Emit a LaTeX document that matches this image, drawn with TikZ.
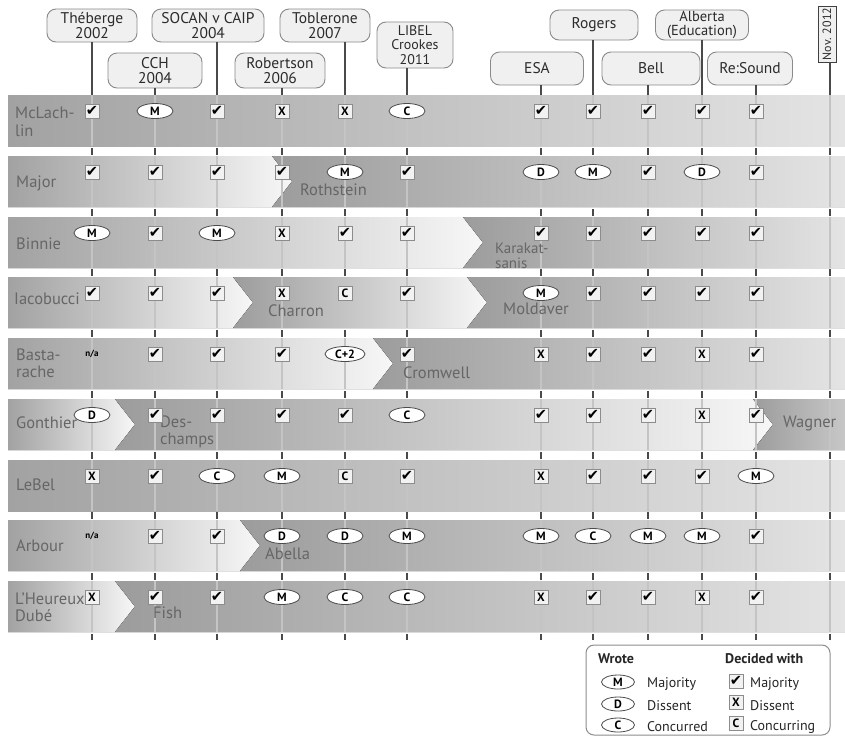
\documentclass[tikz,border=0pt]{standalone}
\usepackage{fontspec}
\setmainfont{PT Sans}
\newfontfamily\symfont{DejaVu Sans}
\usetikzlibrary{shapes.geometric,calc}

\definecolor{stemdark}{HTML}{4A4A4A}
\definecolor{stemlight}{HTML}{C4C4C4}
\definecolor{bandgrey}{HTML}{A2A2A2}
\definecolor{bandgreyB}{HTML}{9C9C9C}
\definecolor{bandpale}{HTML}{F7F7F7}
\definecolor{bandend}{HTML}{E4E4E4}
\definecolor{namegrey}{HTML}{666666}
\definecolor{casefill}{HTML}{F0F0F0}
\definecolor{caseedge}{HTML}{8A8A8A}
\definecolor{casetext}{HTML}{2B2B2B}

% band pieces: a full row, the first justice (ends in a chevron),
% a middle justice (notched on both sides) and the last one
\newcommand\segfull[1]{\fill[left color=bandgrey,right color=bandend] (8,#1) rectangle (845,#1+51);}
\newcommand\segfirst[2]{\fill[left color=bandgrey,right color=bandpale] (8,#1) -- (#2,#1) -- (#2+20,#1+25.5) -- (#2,#1+51) -- (8,#1+51) -- cycle;}
\newcommand\segmid[3]{\fill[left color=bandgreyB,right color=bandpale] (#2,#1) -- (#3,#1) -- (#3+20,#1+25.5) -- (#3,#1+51) -- (#2,#1+51) -- (#2+20,#1+25.5) -- cycle;}
\newcommand\seglast[3]{\fill[left color=bandgreyB,right color=#3] (#2,#1) -- (845,#1) -- (845,#1+51) -- (#2,#1+51) -- (#2+20,#1+25.5) -- cycle;}

% one vote symbol: type, row, column
\newcommand\putsym[3]{\node[sym #1, name=s#2-#3, at={(c#3 |- r#2)}];}
\newcommand\symrow[2]{\foreach \sy [count=\co] in {#2} {\edef\go{\noexpand\putsym{\sy}{#1}{\co}}\go}}

\tikzset{
  casebox/.style={draw=caseedge, line width=0.9pt, fill=casefill, rounded corners=9pt, align=center, text=casetext, font=\fontsize{15.5}{15.5}\selectfont, inner sep=1pt},
  stem/.style={draw=stemdark, line width=2.6pt},
  inband/.style={draw=stemlight, line width=2.4pt},
  gaptick/.style={draw=stemdark, line width=2.6pt},
  wrote/.style={ellipse, draw=black!70, line width=0.8pt, fill=white, minimum width=36pt, minimum height=15pt, inner sep=0pt, font=\bfseries\fontsize{12}{12}\selectfont},
  decided/.style={rectangle, draw=black!45, line width=0.6pt, fill=black!5, minimum size=14pt, inner sep=0pt},
  sym chk/.style={decided, node contents={\symfont\fontsize{14.5}{14.5}\selectfont ✔}},
  sym X/.style={decided, node contents={\bfseries\fontsize{12}{12}\selectfont X}},
  sym Cbox/.style={decided, node contents={\bfseries\fontsize{12}{12}\selectfont C}},
  sym M/.style={wrote, node contents={M}},
  sym D/.style={wrote, node contents={D}},
  sym C/.style={wrote, node contents={C}},
  sym C2/.style={wrote, minimum width=40pt, node contents={C+2}},
  sym na/.style={inner sep=0pt, font=\bfseries\fontsize{9}{9}\selectfont, node contents={n/a}},
  jname/.style={anchor=west, align=left, text=namegrey, font=\fontsize{16.5}{17.5}\selectfont, inner sep=0pt},
  legtext/.style={anchor=west, inner sep=0pt, text=black!85, font=\fontsize{14}{15}\selectfont},
  leghead/.style={legtext, font=\bfseries\fontsize{14}{15}\selectfont},
}

\begin{document}
\begin{tikzpicture}[x=1pt,y=-1pt]
\useasboundingbox (0,0) rectangle (845,737);
\fill[white] (0,0) rectangle (845,737);

% columns and symbol rows
\coordinate (c1) at (92,0);   \coordinate (c2) at (155,0);  \coordinate (c3) at (217,0);
\coordinate (c4) at (282,0);  \coordinate (c5) at (345,0);  \coordinate (c6) at (407,0);
\coordinate (c7) at (541,0);  \coordinate (c8) at (593,0);  \coordinate (c9) at (648,0);
\coordinate (c10) at (702,0); \coordinate (c11) at (756,0); \coordinate (c12) at (830,0);
\coordinate (top1) at (0,95);
\foreach \t [count=\i] in {111,172,233,293,354,415,476,536,597} {\coordinate (r\i) at (0,\t);}

% bands, one per seat
\segfull{95}
\segfirst{156}{272} \seglast{156}{272}{bandend}
\segfirst{217}{463} \seglast{217}{463}{bandend}
\segfirst{277}{233} \segmid{277}{233}{467} \seglast{277}{467}{bandend}
\segfirst{338}{373} \seglast{338}{373}{bandend}
\segfirst{399}{115} \segmid{399}{115}{753} \seglast{399}{753}{black!22}
\segfull{460}
\segfirst{520}{240} \seglast{520}{240}{bandend}
\segfirst{581}{115} \seglast{581}{115}{bandend}

% time lines through the bands
\foreach \x in {92,155,217,282,345,407,541,593,648,702,756,830} {
  \foreach \t in {95,156,217,277,338,399,460,520,581} {\draw[inband] (\x,\t) -- (\x,\t+51);}
  \foreach \t in {156,217,277,338,399,460,520,581} {\draw[gaptick] (\x,\t-8) -- (\x,\t-1.5);}
  \draw[gaptick] (\x,634) -- (\x,640);
}

% cases
\node[casebox, minimum width=90pt, minimum height=33pt] (thb) at (92,25.5) {Théberge\\2002};
\node[casebox, minimum width=112pt, minimum height=33pt] (soc) at (208,25.5) {SOCAN v CAIP\\2004};
\node[casebox, minimum width=90pt, minimum height=33pt] (tob) at (325,25.5) {Toblerone\\2007};
\node[casebox, minimum width=94pt, minimum height=35pt] (cch) at (155,70.5) {CCH\\2004};
\node[casebox, minimum width=90pt, minimum height=35pt] (rob) at (280,70.5) {Robertson\\2006};
\node[casebox, minimum width=76pt, minimum height=46pt, font=\fontsize{14}{14.5}\selectfont] (lib) at (415,45) {LIBEL\\Crookes\\2011};
\node[casebox, minimum width=93pt, minimum height=33pt] (esa) at (537,68.5) {ESA};
\node[casebox, minimum width=88pt, minimum height=30pt] (rog) at (594,25) {Rogers};
\node[casebox, minimum width=98pt, minimum height=33pt] (bel) at (651,68.5) {Bell};
\node[casebox, minimum width=93pt, minimum height=30pt, font=\fontsize{14.5}{14.5}\selectfont] (alb) at (702,25) {Alberta\\(Education)};
\node[casebox, minimum width=85pt, minimum height=33pt] (res) at (750,68.5) {Re:Sound};
\node[draw=black!75, line width=0.8pt, fill=casefill, minimum width=18pt, minimum height=56pt, inner sep=0pt, text=casetext, font=\fontsize{12}{12}\selectfont] (nov) at (827,34) {\rotatebox{90}{Nov. 2012}};

% stems from each case down to the first band
\draw[stem] (c1 |- thb.south) -- (c1 |- top1);
\draw[stem] (c2 |- cch.south) -- (c2 |- top1);
\draw[stem] (c3 |- soc.south) -- (c3 |- top1);
\draw[stem] (c4 |- rob.south) -- (c4 |- top1);
\draw[stem] (c5 |- tob.south) -- (c5 |- top1);
\draw[stem] (c6 |- lib.south) -- (c6 |- top1);
\draw[stem] (c7 |- esa.south) -- (c7 |- top1);
\draw[stem] (c8 |- rog.south) -- (c8 |- top1);
\draw[stem] (c9 |- bel.south) -- (c9 |- top1);
\draw[stem] (c10 |- alb.south) -- (c10 |- top1);
\draw[stem] (c11 |- res.south) -- (c11 |- top1);
\draw[stem] (c12 |- nov.south) -- (c12 |- top1);

% justices
\node[jname] (j1) at (15,122) {McLach-\\lin};
\node[jname] (j2) at (16,183) {Major};
\node[jname] (j3) at (16,244) {Binnie};
\node[jname] (j4) at (14,299) {Iacobucci};
\node[jname] (j5) at (16,363) {Basta-\\rache};
\node[jname] (j6) at (16,423) {Gonthier};
\node[jname] (j7) at (16,485) {LeBel};
\node[jname] (j8) at (16,546) {Arbour};
\node[jname] (j9) at (15,607) {L'Heureux\\Dubé};
\node[jname] (k2) at (300,190) {Rothstein};
\node[jname, font=\fontsize{15}{15}\selectfont] (k3) at (495,256) {Karakat-\\sanis};
\node[jname] (k4) at (268,311) {Charron};
\node[jname] (m4) at (503,309) {Moldaver};
\node[jname] (k5) at (403,373) {Cromwell};
\node[jname] (k6) at (160,432) {Des-\\champs};
\node[jname] (m6) at (783,423) {Wagner};
\node[jname] (k8) at (265,554) {Abella};
\node[jname] (k9) at (153,613) {Fish};

% votes
\symrow{1}{chk,M,chk,X,X,C,chk,chk,chk,chk,chk}
\symrow{2}{chk,chk,chk,chk,M,chk,D,M,chk,D,chk}
\symrow{3}{M,chk,M,X,chk,chk,chk,chk,chk,chk,chk}
\symrow{4}{chk,chk,chk,X,Cbox,chk,M,chk,chk,chk,chk}
\symrow{5}{na,chk,chk,chk,C2,chk,X,chk,chk,X,chk}
\symrow{6}{D,chk,chk,chk,chk,C,chk,chk,chk,X,chk}
\symrow{7}{X,chk,C,M,Cbox,chk,X,chk,chk,chk,M}
\symrow{8}{na,chk,chk,D,D,M,M,C,M,M,chk}
\symrow{9}{X,chk,chk,M,C,C,X,chk,chk,X,chk}

% legend
\node[draw=black!45, line width=1pt, rounded corners=8pt, fill=white, minimum width=244pt, minimum height=90pt] (legend) at (708,690) {};
\node[leghead] (lw) at (598,659) {Wrote};
\node[leghead] (ld) at (725,659) {Decided with};
\node[wrote, minimum width=33pt, minimum height=14pt] (lm) at (618,682) {M};
\node[legtext] (lmt) at (647,684) {Majority};
\node[wrote, minimum width=33pt, minimum height=14pt] (ldd) at (618,704) {D};
\node[legtext] (ldt) at (647,706) {Dissent};
\node[wrote, minimum width=33pt, minimum height=14pt] (lc) at (618,725) {C};
\node[legtext] (lct) at (647,727) {Concurred};
\node[sym chk, name=lk, at={(736,681)}];
\node[legtext] (lkt) at (750,684) {Majority};
\node[sym X, name=lx, at={(736,702)}];
\node[legtext] (lxt) at (750,706) {Dissent};
\node[sym Cbox, name=lcb, at={(736,723)}];
\node[legtext] (lcbt) at (750,727) {Concurring};
\end{tikzpicture}
\end{document}
